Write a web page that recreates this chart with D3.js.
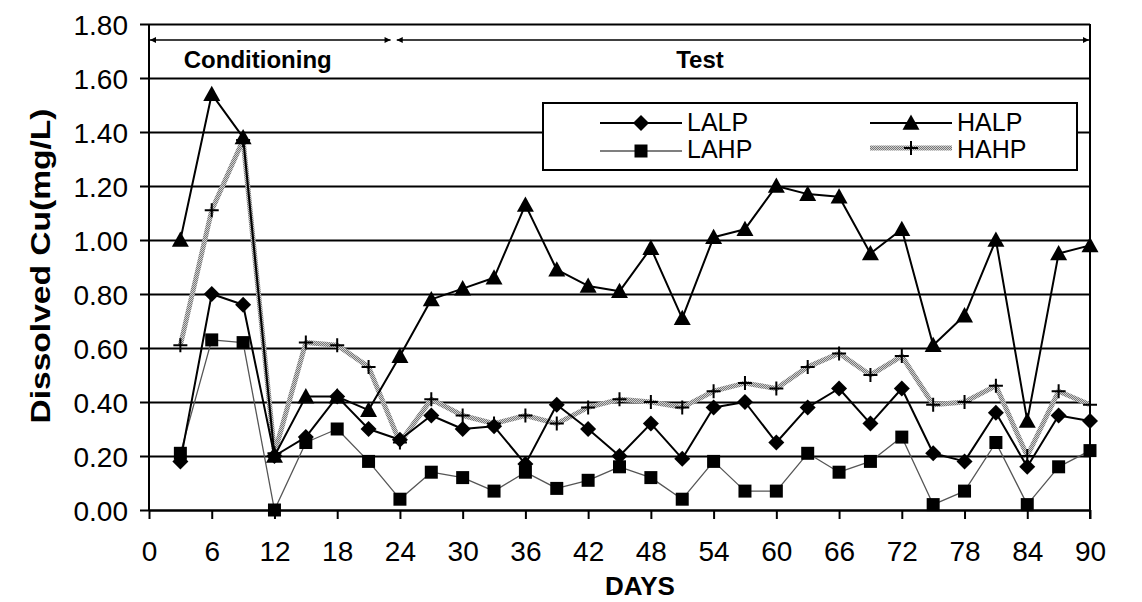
<!DOCTYPE html>
<html>
<head>
<meta charset="utf-8">
<script src="https://cdn.jsdelivr.net/npm/d3@7"></script>
<style>
  body { margin: 0; background: #fff; }
  text { font-family: "Liberation Sans", Arial, sans-serif; }
</style>
</head>
<body>
<script>
const days = [3,6,9,12,15,18,21,24,27,30,33,36,39,42,45,48,51,54,57,60,63,66,69,72,75,78,81,84,87,90];
const lalp = [0.18,0.80,0.76,0.20,0.27,0.42,0.30,0.26,0.35,0.30,0.31,0.17,0.39,0.30,0.20,0.32,0.19,0.38,0.40,0.25,0.38,0.45,0.32,0.45,0.21,0.18,0.36,0.16,0.35,0.33];
const lahp = [0.21,0.63,0.62,0.00,0.25,0.30,0.18,0.04,0.14,0.12,0.07,0.14,0.08,0.11,0.16,0.12,0.04,0.18,0.07,0.07,0.21,0.14,0.18,0.27,0.02,0.07,0.25,0.02,0.16,0.22];
const halp = [1.00,1.54,1.38,0.20,0.42,0.42,0.37,0.57,0.78,0.82,0.86,1.13,0.89,0.83,0.81,0.97,0.71,1.01,1.04,1.20,1.17,1.16,0.95,1.04,0.61,0.72,1.00,0.33,0.95,0.98];
const hahp = [0.61,1.11,1.37,0.21,0.62,0.61,0.53,0.25,0.41,0.35,0.32,0.35,0.32,0.38,0.41,0.40,0.38,0.44,0.47,0.45,0.53,0.58,0.50,0.57,0.39,0.40,0.46,0.20,0.44,0.39];
const xTicks = [0,6,12,18,24,30,36,42,48,54,60,66,72,78,84,90];
const yTicks = [0,0.2,0.4,0.6,0.8,1.0,1.2,1.4,1.6,1.8];
const phases = [{label: "Conditioning", from: 0, to: 23.2, tx: 10.4}, {label: "Test", from: 23.6, to: 90, tx: 52.7}];

const width = 1142, height = 602;
const margin = { top: 24, right: 52, bottom: 92, left: 149 };
const w = width - margin.left - margin.right;
const h = height - margin.top - margin.bottom;

const x = d3.scaleLinear().domain([0, 90]).range([0, w]);
const y = d3.scaleLinear().domain([0, 1.8]).range([h, 0]);

const svg = d3.select("body").append("svg").attr("width", width).attr("height", height);
const defs = svg.append("defs");

// stippled gray for HAHP
const pat = defs.append("pattern").attr("id", "stip").attr("patternUnits", "userSpaceOnUse")
  .attr("width", 2).attr("height", 2);
pat.append("rect").attr("width", 2).attr("height", 2).attr("fill", "#d0d0d0");
pat.append("rect").attr("width", 1).attr("height", 1).attr("fill", "#777");
pat.append("rect").attr("x", 1).attr("y", 1).attr("width", 1).attr("height", 1).attr("fill", "#777");

const arrow = defs.append("marker").attr("id", "arr").attr("viewBox", "0 0 10 10")
  .attr("refX", 10).attr("refY", 5).attr("markerWidth", 8).attr("markerHeight", 6)
  .attr("orient", "auto-start-reverse").attr("markerUnits", "userSpaceOnUse");
arrow.append("path").attr("d", "M0,0L10,5L0,10z").attr("fill", "#000");

const g = svg.append("g").attr("transform", `translate(${margin.left},${margin.top})`);

// gridlines + y axis
const yAxis = g.append("g").call(d3.axisLeft(y).tickValues(yTicks).tickSize(-w - 9).tickFormat(d3.format(".2f")));
yAxis.select(".domain").remove();
yAxis.selectAll(".tick line").attr("x1", -9).attr("x2", w).attr("stroke", "#000").attr("stroke-width", 2);
yAxis.selectAll(".tick text").attr("x", -21).attr("dy", "0.36em").attr("font-size", 28).attr("fill", "#000")
  .style("font-family", "Liberation Sans, Arial, sans-serif");

// x axis
const xAxis = g.append("g").attr("transform", `translate(0,${h})`)
  .call(d3.axisBottom(x).tickValues(xTicks).tickSize(9).tickSizeOuter(0));
xAxis.select(".domain").attr("stroke", "#000").attr("stroke-width", 2);
xAxis.selectAll(".tick line").attr("stroke", "#000").attr("stroke-width", 2);
xAxis.selectAll(".tick text").attr("y", 51).attr("dy", 0).attr("font-size", 28).attr("fill", "#000")
  .style("font-family", "Liberation Sans, Arial, sans-serif");

// left and right borders
g.append("line").attr("x1", 0).attr("x2", 0).attr("y1", 0).attr("y2", h).attr("stroke", "#000").attr("stroke-width", 2);
g.append("line").attr("x1", w).attr("x2", w).attr("y1", 0).attr("y2", h + 9).attr("stroke", "#000").attr("stroke-width", 2);

// phase arrows
phases.forEach((p) => {
  g.append("line").attr("x1", x(p.from) + 1).attr("x2", x(p.to) - 1).attr("y1", 16).attr("y2", 16)
    .attr("stroke", "#000").attr("stroke-width", 1.5)
    .attr("marker-start", "url(#arr)").attr("marker-end", "url(#arr)");
  g.append("text").attr("x", x(p.tx)).attr("y", 44).attr("text-anchor", "middle")
    .attr("font-size", 24).attr("font-weight", "bold").text(p.label);
});

const symbols = {
  diamond: (s) => `M0,${-s}L${s},0L0,${s}L${-s},0Z`,
  square: (s) => `M${-s},${-s}H${s}V${s}H${-s}Z`,
  triangle: (s) => `M0,${-s}L${s},${s * 0.8}L${-s},${s * 0.8}Z`,
  plus: (s) => `M${-s},0H${s}M0,${-s}V${s}`,
};

const series = [
  { name: "HAHP", values: hahp, stroke: "url(#stip)", sw: 5, sym: "plus", size: 7 },
  { name: "LAHP", values: lahp, stroke: "#555", sw: 1.3, sym: "square", size: 6.5 },
  { name: "LALP", values: lalp, stroke: "#000", sw: 2, sym: "diamond", size: 8 },
  { name: "HALP", values: halp, stroke: "#000", sw: 2, sym: "triangle", size: 8.5 },
];

const line = d3.line().x((d) => x(d[0])).y((d) => y(d[1]));

series.forEach((s) => {
  const pts = days.map((d, i) => [d, s.values[i]]);
  g.append("path").datum(pts).attr("d", line).attr("fill", "none")
    .attr("stroke", s.stroke).attr("stroke-width", s.sw).attr("stroke-linejoin", "round");
  g.selectAll(".m-" + s.name).data(pts).enter().append("path")
    .attr("class", "m-" + s.name)
    .attr("transform", (d) => `translate(${x(d[0])},${y(d[1])})`)
    .attr("d", symbols[s.sym](s.size))
    .attr("fill", s.sym === "plus" ? "none" : "#000")
    .attr("stroke", "#000").attr("stroke-width", s.sym === "plus" ? 2 : 0);
});

// legend
const leg = svg.append("g");
leg.append("rect").attr("x", 543).attr("y", 103).attr("width", 534).attr("height", 67)
  .attr("fill", "#fff").attr("stroke", "#000").attr("stroke-width", 2);
const legItems = [
  { s: series[2], lx: 600, ty: 123, by: 131 },
  { s: series[1], lx: 600, ty: 151, by: 158 },
  { s: series[3], lx: 870, ty: 123, by: 131 },
  { s: series[0], lx: 870, ty: 148, by: 158 },
];
legItems.forEach((it) => {
  const s = it.s;
  leg.append("line").attr("x1", it.lx).attr("x2", it.lx + 82).attr("y1", it.ty).attr("y2", it.ty)
    .attr("stroke", s.stroke).attr("stroke-width", s.sw);
  leg.append("path").attr("transform", `translate(${it.lx + 41},${it.ty})`)
    .attr("d", symbols[s.sym](s.size)).attr("fill", s.sym === "plus" ? "none" : "#000")
    .attr("stroke", "#000").attr("stroke-width", s.sym === "plus" ? 2 : 0);
  leg.append("text").attr("x", it.lx + 87).attr("y", it.by)
    .attr("font-size", 25).text(s.name);
});

// axis titles
svg.append("text").attr("transform", "translate(50,266) rotate(-90)").attr("text-anchor", "middle")
  .attr("font-size", 28).attr("font-weight", "bold")
  .attr("textLength", 315).attr("lengthAdjust", "spacingAndGlyphs").text("Dissolved Cu(mg/L)");
svg.append("text").attr("x", 640).attr("y", 595).attr("text-anchor", "middle")
  .attr("font-size", 26).attr("font-weight", "bold").text("DAYS");
</script>
</body>
</html>
